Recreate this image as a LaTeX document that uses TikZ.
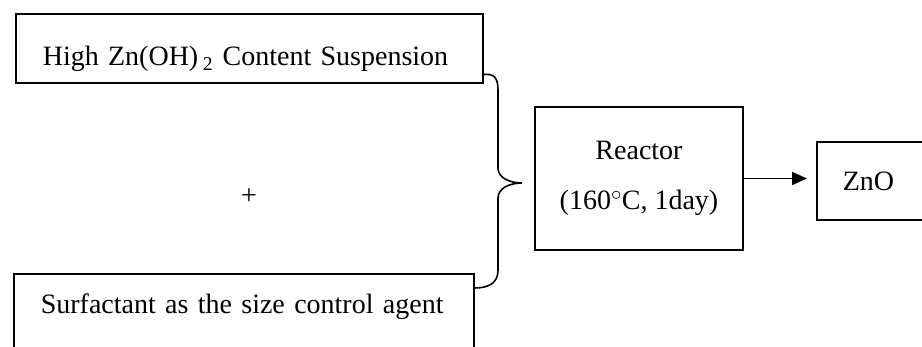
\documentclass[tikz,border=0pt]{standalone}
\usepackage{fontspec}
\setmainfont{Liberation Serif}
\usetikzlibrary{arrows.meta}

\begin{document}
\begin{tikzpicture}[x=1pt,y=1pt,
		bloc/.style={draw,line width=1.6pt,inner sep=0pt,font=\fontsize{28}{34}\selectfont},
		texte/.style={font=\fontsize{28}{34}\selectfont}]
		\useasboundingbox (0,0) rectangle (922,346);
		\clip (0,0) rectangle (922,346);
		% les deux produits de depart
		\node[bloc,anchor=north west,text width=413pt,inner xsep=27pt,align=left,text height=52pt,text depth=17pt] (susp) at (15,333) {High Zn(OH)\,\textsubscript{2} Content Suspension};
		\node[texte] (plus) at (249,149) {+};
		\node[bloc,anchor=north west,text width=406pt,inner xsep=27pt,align=left,text height=40pt,text depth=40pt] (surf) at (13,73) {Surfactant as the size control agent};
		
		% accolade
		\coordinate (haut) at ([yshift=9pt]susp.south east);
		\coordinate (bas) at ([yshift=-15pt]surf.north east);
		\coordinate (pointe) at (522,163);
		\draw[line width=1.6pt] (haut) .. controls (494,273) and (498,268) .. (498,256) -- (498,178)
			.. controls (498,168) and (510,163) .. (pointe)
			.. controls (510,163) and (498,158) .. (498,148) -- (498,76)
			.. controls (498,63) and (489,58) .. (bas);
		
		% reacteur et produit
		\node[bloc,minimum width=208pt,minimum height=143pt,align=center] (reactor) at (639,167.5) {Reactor\\[16pt](160${}^{\circ}$C, 1day)};
		\node[bloc,anchor=west,text width=80pt,inner xsep=26pt,minimum height=78pt,align=left] (zno) at (816,165) {ZnO};
		\draw[line width=1.6pt,-{Triangle[length=15pt,width=13pt]},shorten >=9pt] (reactor.east) -- (reactor.east -| zno.west);
	\end{tikzpicture}
\end{document}
